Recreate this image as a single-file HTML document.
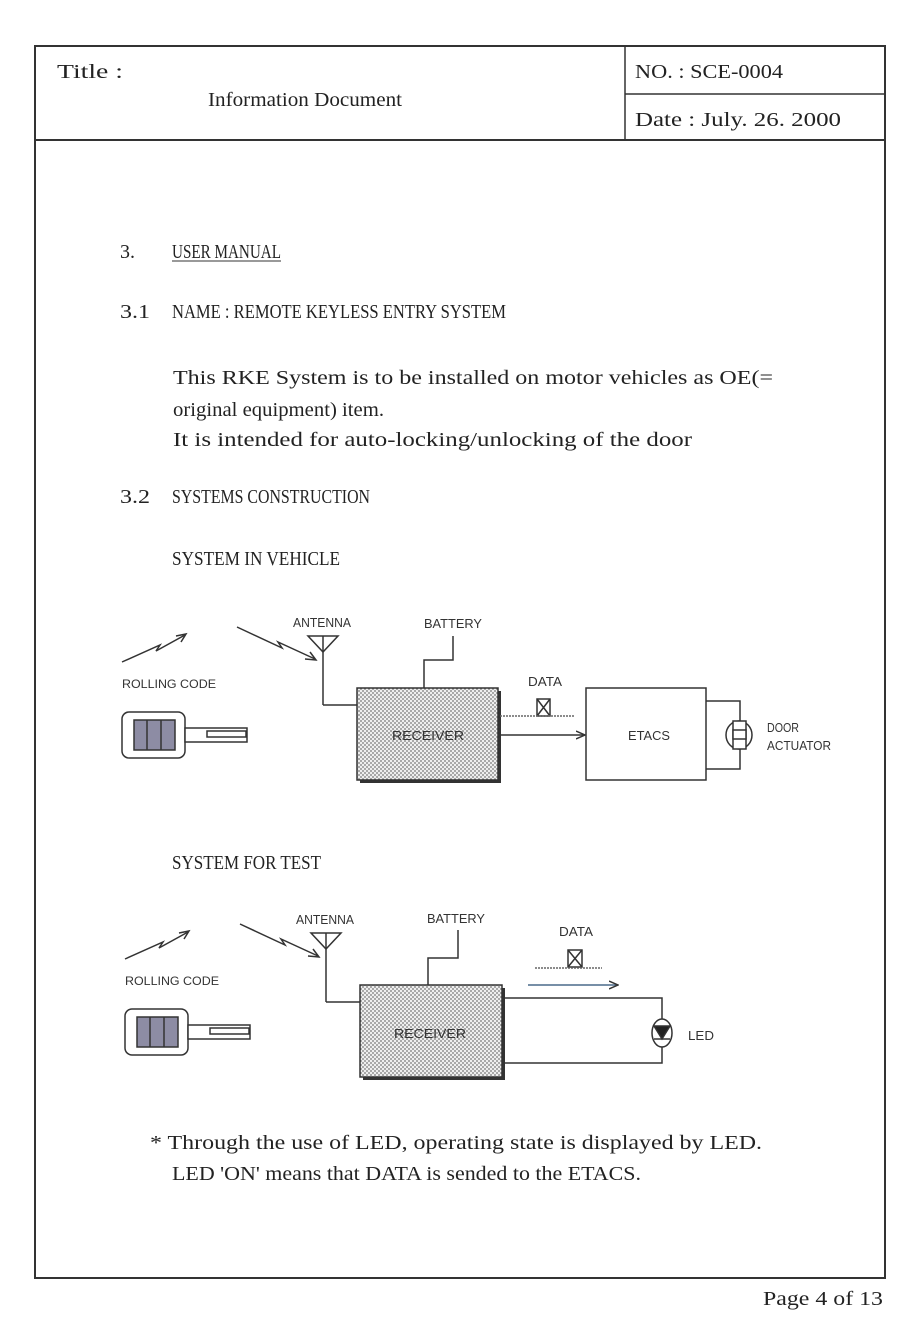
<!DOCTYPE html>
<html><head><meta charset="utf-8"><style>
html,body{margin:0;padding:0;background:#fff;}
svg{display:block;}
text{font-family:"Liberation Serif",serif;fill:#222;}
.s{font-family:"Liberation Sans",sans-serif;font-size:13px;fill:#333;}
</style></head><body>
<svg width="923" height="1343" viewBox="0 0 923 1343" xmlns="http://www.w3.org/2000/svg">
<defs>
<pattern id="dots" width="4" height="4" patternUnits="userSpaceOnUse">
<rect width="4" height="4" fill="#eee"/>
<circle cx="1" cy="1" r="0.9" fill="#777"/>
<circle cx="3" cy="3" r="0.9" fill="#777"/>
</pattern>
<marker id="ah" markerWidth="10" markerHeight="10" refX="9" refY="5" orient="auto" markerUnits="userSpaceOnUse">
<path d="M0,1 L9,5 L0,9" fill="none" stroke="#333" stroke-width="1.5"/>
</marker>
<g id="fob" stroke="#333" stroke-width="1.5" fill="none">
<path d="M122,662 L160,645 L156,651 L185,635" />
<path d="M176,636 L186,634 L181,642" />
<path d="M237,627 L282,648 L278,642 L315,659"/>
<path d="M305,659 L316,660 L310,652"/>
<text x="122" y="688" class="s" stroke="none" textLength="94" lengthAdjust="spacingAndGlyphs" style="font-size:12px">ROLLING CODE</text>
<rect x="122" y="712" width="63" height="46" rx="7" fill="#fff"/>
<rect x="134" y="720" width="41" height="30" fill="#8d8ca4"/>
<line x1="147" y1="720" x2="147" y2="750"/>
<line x1="161" y1="720" x2="161" y2="750"/>
<rect x="185" y="728" width="62" height="14" fill="#fff"/>
<rect x="207" y="731" width="39" height="6" fill="#fff"/>
<path d="M308,636 L338,636 L323,652 Z" fill="#fff"/>
<line x1="323" y1="636" x2="323" y2="705"/>
<line x1="323" y1="705" x2="357" y2="705"/>
<text x="293" y="627" class="s" stroke="none" textLength="58" lengthAdjust="spacingAndGlyphs">ANTENNA</text>
</g>
</defs>

<rect x="35" y="46" width="850" height="1232" fill="none" stroke="#333" stroke-width="2"/>
<line x1="35" y1="140" x2="885" y2="140" stroke="#333" stroke-width="2"/>
<line x1="625" y1="46" x2="625" y2="140" stroke="#333" stroke-width="1.5"/>
<line x1="625" y1="94" x2="885" y2="94" stroke="#333" stroke-width="1.5"/>

<g font-size="20">
<text x="57" y="78" textLength="66" lengthAdjust="spacingAndGlyphs">Title :</text>
<text x="208" y="106" textLength="194" lengthAdjust="spacingAndGlyphs">Information Document</text>
<text x="635" y="78" textLength="148" lengthAdjust="spacingAndGlyphs">NO.  : SCE-0004</text>
<text x="635" y="126" textLength="206" lengthAdjust="spacingAndGlyphs">Date : July. 26. 2000</text>

<text x="120" y="258">3.</text>
<text x="172" y="258" textLength="109" lengthAdjust="spacingAndGlyphs">USER MANUAL</text>
<line x1="172" y1="261" x2="281" y2="261" stroke="#333" stroke-width="1"/>
<text x="120" y="318" textLength="30" lengthAdjust="spacingAndGlyphs">3.1</text>
<text x="172" y="318" textLength="334" lengthAdjust="spacingAndGlyphs">NAME : REMOTE KEYLESS ENTRY SYSTEM</text>
<text x="173" y="384" textLength="600" lengthAdjust="spacingAndGlyphs">This RKE System is to be installed on motor vehicles as OE(=</text>
<text x="173" y="416" textLength="211" lengthAdjust="spacingAndGlyphs">original equipment) item.</text>
<text x="173" y="446" textLength="519" lengthAdjust="spacingAndGlyphs">It is intended for auto-locking/unlocking of the door</text>
<text x="120" y="503" textLength="30" lengthAdjust="spacingAndGlyphs">3.2</text>
<text x="172" y="503" textLength="198" lengthAdjust="spacingAndGlyphs">SYSTEMS CONSTRUCTION</text>
<text x="172" y="565" textLength="168" lengthAdjust="spacingAndGlyphs">SYSTEM IN VEHICLE</text>
<text x="172" y="869" textLength="149" lengthAdjust="spacingAndGlyphs">SYSTEM FOR TEST</text>
<text x="150" y="1149" textLength="612" lengthAdjust="spacingAndGlyphs">* Through the use of LED, operating state is displayed by LED.</text>
<text x="172" y="1180" textLength="469" lengthAdjust="spacingAndGlyphs">LED 'ON' means that DATA is sended to the ETACS.</text>
<text x="763" y="1305" textLength="120" lengthAdjust="spacingAndGlyphs">Page 4 of 13</text>
</g>

<use href="#fob"/>
<g stroke="#333" stroke-width="1.5" fill="none">
<rect x="360" y="691" width="141" height="92" fill="#333" stroke="none"/>
<rect x="357" y="688" width="141" height="92" fill="url(#dots)"/>
<path d="M453,636 L453,660 L424,660 L424,688"/>
<rect x="537" y="699" width="13" height="17"/>
<path d="M537,699 L550,716 M550,699 L537,716"/>
<line x1="500" y1="716" x2="575" y2="716" stroke-dasharray="2,1" stroke="#666"/>
<line x1="498" y1="735" x2="585" y2="735" marker-end="url(#ah)"/>
<rect x="586" y="688" width="120" height="92" fill="#fff"/>
<path d="M706,701 L740,701 L740,722 M740,748 L740,769 L706,769"/>
<ellipse cx="739" cy="735" rx="13" ry="14" fill="#fff"/>
<rect x="733" y="721" width="13" height="28" fill="#fff"/>
<rect x="733" y="730" width="13" height="9" fill="#fff"/>
</g>
<text x="392" y="740" class="s" textLength="72" lengthAdjust="spacingAndGlyphs">RECEIVER</text>
<text x="424" y="628" class="s" textLength="58" lengthAdjust="spacingAndGlyphs">BATTERY</text>
<text x="528" y="686" class="s" textLength="34" lengthAdjust="spacingAndGlyphs">DATA</text>
<text x="628" y="740" class="s" textLength="42" lengthAdjust="spacingAndGlyphs">ETACS</text>
<text x="767" y="732" class="s" textLength="32" lengthAdjust="spacingAndGlyphs">DOOR</text>
<text x="767" y="750" class="s" textLength="64" lengthAdjust="spacingAndGlyphs">ACTUATOR</text>

<use href="#fob" transform="translate(3,297)"/>
<g stroke="#333" stroke-width="1.5" fill="none">
<rect x="363" y="988" width="142" height="92" fill="#333" stroke="none"/>
<rect x="360" y="985" width="142" height="92" fill="url(#dots)"/>
<path d="M458,930 L458,958 L428,958 L428,985"/>
<rect x="568" y="950" width="14" height="17"/>
<path d="M568,950 L582,967 M582,950 L568,967"/>
<line x1="535" y1="968" x2="602" y2="968" stroke-dasharray="2,1" stroke="#666"/>
<line x1="528" y1="985" x2="618" y2="985" stroke="#4a6a8a" marker-end="url(#ah)"/>
<path d="M502,998 L662,998 L662,1020 M662,1046 L662,1063 L502,1063"/>
<ellipse cx="662" cy="1033" rx="10" ry="14" fill="#fff"/>
<path d="M654,1026 L670,1026 L662,1039 Z" fill="#222"/>
<line x1="654" y1="1039" x2="670" y2="1039"/>
</g>
<text x="394" y="1038" class="s" textLength="72" lengthAdjust="spacingAndGlyphs">RECEIVER</text>
<text x="427" y="923" class="s" textLength="58" lengthAdjust="spacingAndGlyphs">BATTERY</text>
<text x="559" y="936" class="s" textLength="34" lengthAdjust="spacingAndGlyphs">DATA</text>
<text x="688" y="1040" class="s" textLength="26" lengthAdjust="spacingAndGlyphs">LED</text>
</svg>
</body></html>
